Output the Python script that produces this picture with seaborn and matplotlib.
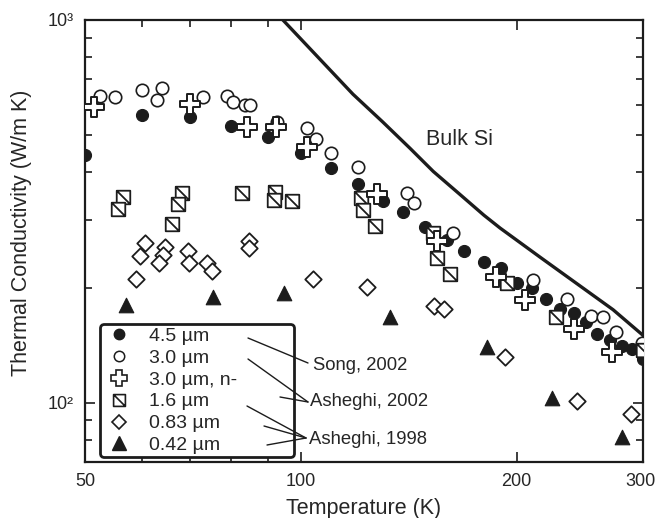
import matplotlib
matplotlib.use('Agg')
import matplotlib.pyplot as plt
import matplotlib.transforms as mtransforms
import seaborn as sns
from matplotlib.path import Path
from matplotlib.lines import Line2D
from matplotlib.ticker import FixedLocator, FixedFormatter, NullFormatter

# Bulk Si curve
t_bulk = [94.4, 106.3, 118.2, 130, 142, 153, 166.7, 180, 189.6, 215.6, 245, 272.5, 300]
k_bulk = [1000, 790, 640, 542, 462, 402, 350, 309, 286, 240, 202, 175, 150]

# 4.5 um (Song, 2002)
t_45 = [50, 60, 70, 80, 90, 100, 110, 120, 130, 139, 149, 160, 169, 180, 190,
        200, 210, 220, 230, 240, 250, 259, 270, 280, 290, 300]
k_45 = [444, 565, 558, 529, 495, 449, 411, 373, 337, 315, 288, 266, 249, 233, 225,
        206, 199, 187, 176, 172, 163, 151, 146, 141, 138, 130]

# 3.0 um (Song, 2002)
t_30 = [52.5, 55, 60, 63, 64, 73, 79, 80.5, 83.5, 85, 92.5, 102, 105, 110, 120,
        140.5, 144, 163, 211, 235, 254, 264, 275, 299]
k_30 = [633, 629, 657, 618, 665, 629, 633, 611, 600, 600, 542, 522, 489, 449, 413,
        353, 333, 278, 209, 187, 168, 167, 153, 143]

# 3.0 um, n- (Asheghi, 2002)
t_30n = [51.5, 70, 84, 92.3, 102, 127.7, 155, 187, 205.5, 240, 271.5]
k_30n = [593, 603, 525, 525, 466, 351, 265, 213, 186, 156, 136]

# 1.6 um (Asheghi, 1998)
t_16 = [56.5, 55.5, 68.3, 67.4, 66.1, 82.8, 92.1, 91.8, 97.2, 121.2, 122, 126.9,
        152.9, 154.9, 161.4, 193.9, 227, 300]
k_16 = [345, 321, 353, 331, 293, 353, 355, 339, 337, 343, 319, 290,
        278, 239, 217, 206, 167, 137]

# 0.83 um (Asheghi, 1998)
t_083 = [60.6, 59.6, 58.9, 64.6, 64.2, 63.4, 69.6, 69.8, 74.0, 75.2, 84.7, 84.7,
         104, 123.7, 153.4, 158.4, 192.6, 242.7, 288.6]
k_083 = [262, 242, 211, 255, 243, 232, 249, 232, 232, 221, 265, 254,
         211, 201, 179, 176, 132, 101, 93.6]

# 0.42 um (Asheghi, 1998)
t_042 = [57, 75.4, 94.7, 133.2, 181.8, 224.1, 280.5]
k_042 = [180, 189, 194, 167, 140, 103, 81.5]

labels = ['4.5 µm', '3.0 µm', '3.0 µm, n-', '1.6 µm', '0.83 µm', '0.42 µm']

sns.set_style('ticks')
plt.rcParams['font.family'] = ['Liberation Sans', 'DejaVu Sans']
plt.rcParams['font.size'] = 13.5

INK = '#1c1c1c'

# square with a diagonal (top-left to bottom-right)
sq_diag = Path([(-1, -1), (1, -1), (1, 1), (-1, 1), (-1, -1), (-1, 1), (1, -1)],
               [Path.MOVETO, Path.LINETO, Path.LINETO, Path.LINETO, Path.CLOSEPOLY,
                Path.MOVETO, Path.LINETO])

fig = plt.figure(figsize=(6.57, 5.18), dpi=100)
ax = fig.add_axes([85 / 657, 56 / 518, 558 / 657, 442 / 518])

sns.lineplot(x=t_bulk, y=k_bulk, ax=ax, color=INK, linewidth=2.4, sort=False)

sns.scatterplot(x=t_45, y=k_45, ax=ax, marker='o', s=75, color=INK, edgecolor=INK, linewidth=0.8, zorder=3)
sns.scatterplot(x=t_30, y=k_30, ax=ax, marker='o', s=80, facecolor='white', edgecolor=INK, linewidth=1.2, zorder=3)
sns.scatterplot(x=t_16, y=k_16, ax=ax, marker=sq_diag, s=95, facecolor='white', edgecolor=INK, linewidth=1.3, zorder=4)
sns.scatterplot(x=t_083, y=k_083, ax=ax, marker='D', s=70, facecolor='white', edgecolor=INK, linewidth=1.3, zorder=4)
sns.scatterplot(x=t_042, y=k_042, ax=ax, marker='^', s=110, color=INK, edgecolor=INK, linewidth=0.8, zorder=4)
sns.scatterplot(x=t_30n, y=k_30n, ax=ax, marker='P', s=200, facecolor='white', edgecolor=INK, linewidth=1.4, zorder=5)

ax.set_xscale('log')
ax.set_yscale('log')
ax.set_xlim(50, 300)
ax.set_ylim(70, 1000)

ax.xaxis.set_major_locator(FixedLocator([50, 100, 200, 300]))
ax.xaxis.set_major_formatter(FixedFormatter(['50', '100', '200', '300']))
ax.xaxis.set_minor_locator(FixedLocator([60, 70, 80, 90]))
ax.xaxis.set_minor_formatter(NullFormatter())
ax.yaxis.set_major_locator(FixedLocator([100, 1000]))
ax.yaxis.set_major_formatter(FixedFormatter(['10²', '10³']))
ax.yaxis.set_minor_locator(FixedLocator([80, 90, 200, 300, 400, 500, 600, 700, 800, 900]))
ax.yaxis.set_minor_formatter(NullFormatter())

ax.tick_params(which='both', direction='in', top=True, right=True, color=INK, width=1.2)
ax.tick_params(which='major', length=7, labelsize=13, pad=8)
ax.tick_params(which='minor', length=5)
for sp in ax.spines.values():
    sp.set_linewidth(1.6)
    sp.set_color(INK)

# nudge the last x tick label inside the canvas
fig.canvas.draw()
shift = mtransforms.ScaledTranslation(-3 / 100, 0, fig.dpi_scale_trans)
last = ax.get_xticklabels()[-1]
last.set_transform(last.get_transform() + shift)

ax.set_xlabel('Temperature (K)', fontsize=15.5, labelpad=6)
ax.set_ylabel('Thermal Conductivity (W/m K)', fontsize=15.5)
ax.yaxis.set_label_coords(-0.095, 0.518)

ax.text(0.612, 0.729, 'Bulk Si', transform=ax.transAxes, fontsize=15.5, va='center', ha='left')

handles = [
    Line2D([], [], ls='none', marker='o', ms=7.5, mfc=INK, mec=INK),
    Line2D([], [], ls='none', marker='o', ms=7.5, mfc='white', mec=INK, mew=1.1),
    Line2D([], [], ls='none', marker='P', ms=12, mfc='white', mec=INK, mew=1.2),
    Line2D([], [], ls='none', marker=sq_diag, ms=8.5, mfc='white', mec=INK, mew=1.2),
    Line2D([], [], ls='none', marker='D', ms=7.5, mfc='white', mec=INK, mew=1.2),
    Line2D([], [], ls='none', marker='^', ms=10, mfc=INK, mec=INK),
]
leg = ax.legend(handles, labels, loc='lower left',
                bbox_to_anchor=(0.027, 0.011, 0.348, 0.3), mode='expand',
                frameon=True, fancybox=True, fontsize=14, labelspacing=0.22,
                handletextpad=0.75, borderpad=0.15, handlelength=1.6,
                borderaxespad=0, framealpha=1)
frame = leg.get_frame()
frame.set_edgecolor(INK)
frame.set_linewidth(2.0)

# connector lines from legend rows to references (axes fraction)
def fx(px):
    return (px - 85) / 558


def fy(py):
    return (462 - py) / 442


connectors = [
    ((248, 338), (308, 363)),
    ((248, 359), (308, 402)),
    ((280, 397), (308, 402)),
    ((247, 406), (306, 438)),
    ((264, 426), (306, 438)),
    ((267, 445), (306, 438)),
]
for (x0, y0), (x1, y1) in connectors:
    ax.plot([fx(x0), fx(x1)], [fy(y0), fy(y1)], transform=ax.transAxes,
            color=INK, linewidth=1.0, zorder=6, clip_on=False)

ax.text(fx(313), fy(366), 'Song, 2002', transform=ax.transAxes, fontsize=13.3, va='center', ha='left')
ax.text(fx(310), fy(402), 'Asheghi, 2002', transform=ax.transAxes, fontsize=13.3, va='center', ha='left')
ax.text(fx(309), fy(439), 'Asheghi, 1998', transform=ax.transAxes, fontsize=13.3, va='center', ha='left')

plt.savefig('out.png', dpi=100)
plt.close()
